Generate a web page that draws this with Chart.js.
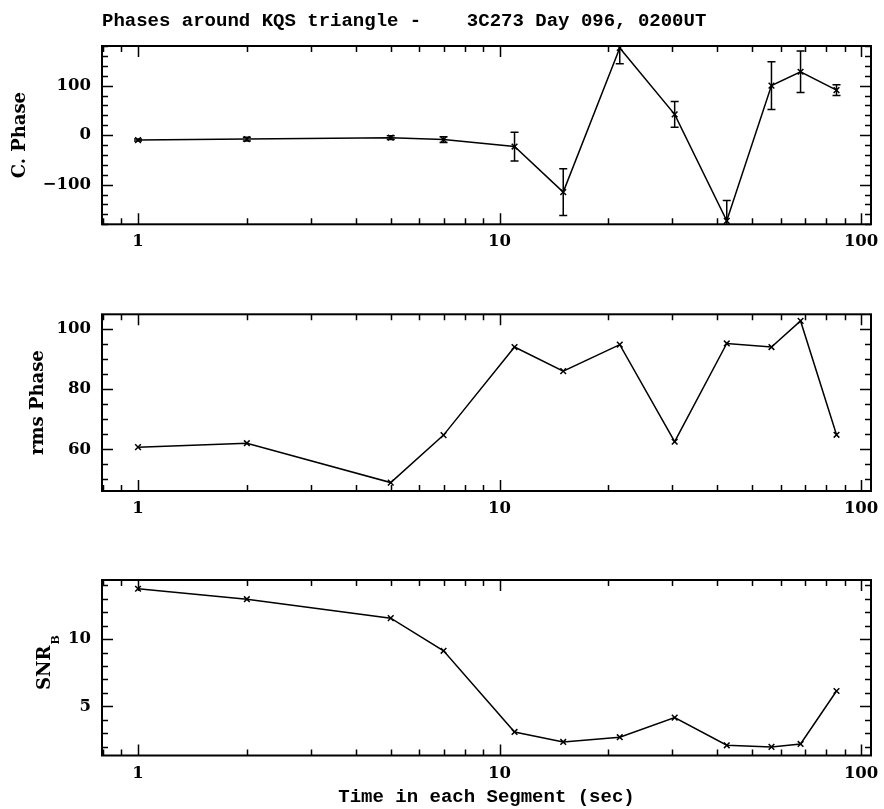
<!DOCTYPE html>
<html>
<head>
<meta charset="utf-8">
<script src="https://cdn.jsdelivr.net/npm/chart.js@4/dist/chart.umd.min.js"></script>
<style>
  html, body { margin: 0; padding: 0; background: #fff; }
  #wrap { position: relative; width: 884px; height: 809px; overflow: hidden; }
  .panel { position: absolute; left: 0; width: 884px; }
</style>
</head>
<body>
<div id="wrap">
  <div class="panel" style="top:0px"><canvas id="c-phase" width="884" height="270"></canvas></div>
  <div class="panel" style="top:270px"><canvas id="c-rms" width="884" height="270"></canvas></div>
  <div class="panel" style="top:540px"><canvas id="c-snr" width="884" height="269"></canvas></div>
</div>
<script>
// ---------- data ----------
const segTime   = [1, 2, 5, 7, 11, 15, 21.5, 30.5, 42.5, 56.5, 68, 85.5];
const cPhase    = [-10, -8, -5, -9, -23, -115, 176, 42, -173, 100, 128, 91];
const cPhaseErr = [2, 4, 4, 6, 29, 47, 32, 26, 41, 48, 42, 11];
const rmsPhase  = [60.7, 62.0, 48.9, 64.7, 94.0, 86.0, 94.8, 62.5, 95.2, 94.0, 102.7, 64.8];
const snrB      = [13.75, 12.97, 11.56, 9.13, 3.09, 2.35, 2.70, 4.16, 2.10, 1.98, 2.20, 6.14];

// tick labels
const xTickVals   = [1, 10, 100];
const phaseTicks  = [-100, 0, 100];
const rmsTicks    = [60, 80, 100];
const snrTicks    = [5, 10];

const MONO = { family: 'Liberation Mono', size: 19, weight: 'bold' };
const SERIF = { family: 'DejaVu Serif', size: 16.5, weight: 'bold' };
const YTITLE = { family: 'DejaVu Serif', size: 18, weight: 'bold' };

// ---------- inward ticks on all four sides + frame ----------
const frameTicks = {
  id: 'frameTicks',
  afterDraw(chart, args, opts) {
    const { ctx, chartArea: a, scales: { x, y } } = chart;
    ctx.save();
    ctx.strokeStyle = '#000';
    ctx.lineWidth = 1.5;
    ctx.beginPath();
    // x: decades, 2..9 as minor
    [0.1, 1, 10, 100].forEach((d) => {
      for (let k = 1; k < 10; k++) {
        const v = d * k;
        if (v < x.min || v > x.max) continue;
        const px = Math.round(x.getPixelForValue(v)) + 0.5;
        const len = xTickVals.includes(v) ? 11 : 6;
        ctx.moveTo(px, a.bottom); ctx.lineTo(px, a.bottom - len);
        ctx.moveTo(px, a.top);    ctx.lineTo(px, a.top + len);
      }
    });
    // y: minor step from options
    const step = opts.minorStep;
    const majors = y.ticks.map((t) => t.value);
    for (let v = Math.ceil(y.min / step) * step; v <= y.max + 1e-9; v += step) {
      const py = Math.round(y.getPixelForValue(v)) + 0.5;
      const len = majors.some((m) => Math.abs(m - v) < 1e-6) ? 11 : 6;
      ctx.moveTo(a.left, py);  ctx.lineTo(a.left + len, py);
      ctx.moveTo(a.right, py); ctx.lineTo(a.right - len, py);
    }
    ctx.stroke();
    ctx.lineWidth = 2;
    ctx.strokeRect(a.left, a.top, a.width, a.height);
    if (opts.subscript) {
      // "B" subscript after the rotated y title
      const t = y.options.title;
      ctx.font = 'bold ' + YTITLE.size + 'px ' + YTITLE.family;
      const w = ctx.measureText(t.text).width;
      const tx = y.left + YTITLE.size * 1.2 / 2 + t.padding.top;
      const ty = (y.top + y.bottom) / 2;
      ctx.translate(tx, ty);
      ctx.rotate(-Math.PI / 2);
      ctx.fillStyle = '#000';
      ctx.font = 'bold 11px ' + YTITLE.family;
      ctx.textAlign = 'left';
      ctx.textBaseline = 'middle';
      ctx.fillText(opts.subscript, w / 2 + 1, 10);
    }
    ctx.restore();
  },
};

// ---------- vertical error bars with caps ----------
const errorBars = {
  id: 'errorBars',
  afterDatasetsDraw(chart, args, opts) {
    if (!opts.errors) return;
    const { ctx, chartArea: a, scales: { x, y } } = chart;
    const pts = chart.data.datasets[0].data;
    ctx.save();
    ctx.beginPath();
    ctx.rect(a.left, a.top, a.width, a.height);
    ctx.clip();
    ctx.strokeStyle = '#000';
    ctx.lineWidth = 1.5;
    ctx.beginPath();
    pts.forEach((p, i) => {
      const e = opts.errors[i];
      const px = x.getPixelForValue(p.x);
      const y1 = y.getPixelForValue(p.y + e);
      const y2 = y.getPixelForValue(p.y - e);
      ctx.moveTo(px, y1); ctx.lineTo(px, y2);
      ctx.moveTo(px - 4, y1); ctx.lineTo(px + 4, y1);
      ctx.moveTo(px - 4, y2); ctx.lineTo(px + 4, y2);
    });
    ctx.stroke();
    ctx.restore();
  },
};

const fmt = (v) => (v < 0 ? '\u2212' + Math.abs(v) : String(v));

function makePanel(id, o) {
  return new Chart(document.getElementById(id), {
    type: 'line',
    data: {
      datasets: [{
        data: segTime.map((t, i) => ({ x: t, y: o.values[i] })),
        borderColor: '#000', borderWidth: 1.5, fill: false, tension: 0,
        pointStyle: 'crossRot', pointRadius: 4, pointBorderWidth: 1.5,
        pointBorderColor: '#000', pointBackgroundColor: '#000',
      }],
    },
    options: {
      responsive: false, animation: false, events: [],
      layout: { padding: { top: o.padTop, bottom: o.padBottom, left: 0, right: 13 } },
      plugins: {
        legend: { display: false },
        tooltip: { enabled: false },
        title: o.title
          ? { display: true, text: o.title, align: 'start', fullSize: false, color: '#000',
              font: MONO, padding: { top: 10, bottom: 13.2 } }
          : { display: false },
        errorBars: { errors: o.errors },
        frameTicks: { minorStep: o.minorStep, subscript: o.subscript },
      },
      scales: {
        x: {
          type: 'logarithmic', min: 0.795, max: 106.5, bounds: 'data',
          grid: { display: false, drawTicks: false }, border: { display: false },
          ticks: { autoSkip: false, maxRotation: 0, padding: 8, color: '#000', font: SERIF,
                   callback: (v) => String(v) },
          afterBuildTicks: (s) => { s.ticks = xTickVals.map((v) => ({ value: v })); },
          afterFit: (s) => { s.height = o.xHeight; s.paddingLeft = 0; s.paddingRight = 0; },
          title: o.xTitle
            ? { display: true, text: o.xTitle, color: '#000', font: MONO, padding: { top: 0, bottom: 0 } }
            : { display: false },
        },
        y: {
          type: 'linear', min: o.yMin, max: o.yMax, bounds: 'data',
          grid: { display: false, drawTicks: false }, border: { display: false },
          ticks: { padding: 11, color: '#000', font: SERIF, callback: fmt },
          afterBuildTicks: (s) => { s.ticks = o.ticks.map((v) => ({ value: v })); },
          afterFit: (s) => { s.width = 102; s.paddingTop = 0; s.paddingBottom = 0; },
          title: { display: true, text: o.yTitle, color: '#000', font: YTITLE,
                   padding: { top: o.yTitlePad, bottom: 0 } },
        },
      },
    },
    plugins: [errorBars, frameTicks],
  });
}

makePanel('c-phase', {
  values: cPhase, errors: cPhaseErr, ticks: phaseTicks, minorStep: 20,
  yMin: -180, yMax: 180, yTitle: 'C. Phase', yTitlePad: 9.7,
  title: 'Phases around KQS triangle -    3C273 Day 096, 0200UT',
  padTop: 0, padBottom: 15.7, xHeight: 30,
});

makePanel('c-rms', {
  values: rmsPhase, ticks: rmsTicks, minorStep: 5,
  yMin: 46.1, yMax: 104.9, yTitle: 'rms Phase', yTitlePad: 28,
  padTop: 44.3, padBottom: 19, xHeight: 30,
});

makePanel('c-snr', {
  values: snrB, ticks: snrTicks, minorStep: 1,
  yMin: 1.34, yMax: 14.4, yTitle: 'SNR', yTitlePad: 35, subscript: 'B',
  xTitle: 'Time in each Segment (sec)',
  padTop: 40, padBottom: 0, xHeight: 53.5,
});
</script>
</body>
</html>
